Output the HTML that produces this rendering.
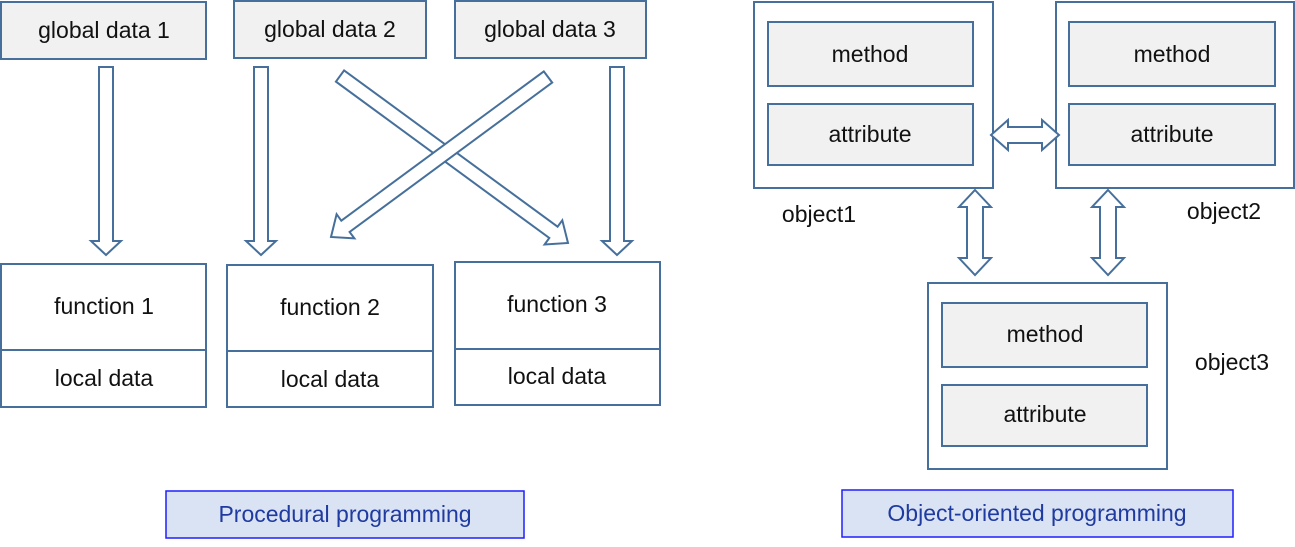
<!DOCTYPE html>
<html><head><meta charset="utf-8"><style>
html,body{margin:0;padding:0;background:#fff;width:1295px;height:547px;overflow:hidden}
svg text{font-family:"Liberation Sans",sans-serif;font-size:23px;fill:#111;text-anchor:middle;dominant-baseline:central}
</style></head><body>
<svg id="s" width="1295" height="547" xmlns="http://www.w3.org/2000/svg">
<g fill="#f1f1f1" stroke="#46709b" stroke-width="2">
<rect x="1" y="2" width="205" height="57"/>
<rect x="234" y="1" width="192" height="57"/>
<rect x="455" y="1" width="191" height="57"/>
</g>
<text x="104" y="30">global data 1</text>
<text x="330" y="29">global data 2</text>
<text x="550" y="29">global data 3</text>
<g fill="#fff" stroke="#46709b" stroke-width="2">
<rect x="1" y="264" width="205" height="143"/><line x1="1" y1="350" x2="206" y2="350"/>
<rect x="227" y="265" width="206" height="142"/><line x1="227" y1="351" x2="433" y2="351"/>
<rect x="455" y="262" width="205" height="143"/><line x1="455" y1="349" x2="660" y2="349"/>
</g>
<text x="104" y="306">function 1</text><text x="104" y="378">local data</text>
<text x="330" y="307">function 2</text><text x="330" y="379">local data</text>
<text x="557" y="304">function 3</text><text x="557" y="376">local data</text>
<rect x="166" y="491" width="358" height="47" fill="#dae3f3" stroke="#1f1fff" stroke-width="1.5"/>
<text x="345" y="514" style="fill:#1f3aa0">Procedural programming</text>
<rect x="842" y="490" width="391" height="47" fill="#dae3f3" stroke="#1f1fff" stroke-width="1.5"/>
<text x="1037" y="513" style="fill:#1f3aa0">Object-oriented programming</text>
<g stroke="#46709b" stroke-width="2">
<rect x="754" y="2" width="239" height="186" fill="#fff"/>
<rect x="1056" y="2" width="238" height="186" fill="#fff"/>
<rect x="928" y="283" width="239" height="186" fill="#fff"/>
<g fill="#f1f1f1">
<rect x="768" y="22" width="205" height="64"/><rect x="768" y="104" width="205" height="61"/>
<rect x="1069" y="22" width="206" height="64"/><rect x="1069" y="104" width="206" height="61"/>
<rect x="942" y="303" width="205" height="64"/><rect x="942" y="385" width="205" height="61"/>
</g></g>
<text x="870" y="54">method</text><text x="870" y="134">attribute</text>
<text x="1172" y="54">method</text><text x="1172" y="134">attribute</text>
<text x="1045" y="334">method</text><text x="1045" y="414">attribute</text>
<text x="819" y="214">object1</text>
<text x="1224" y="211">object2</text>
<text x="1232" y="362">object3</text>
<g id="arr" fill="#fff" stroke="#46709b" stroke-width="2"></g>
</svg>
<script>
var g=document.getElementById('arr');
function poly(pts){var p=document.createElementNS('http://www.w3.org/2000/svg','polygon');p.setAttribute('points',pts.map(function(a){return a[0].toFixed(1)+','+a[1].toFixed(1)}).join(' '));g.appendChild(p);}
function frame(x1,y1,x2,y2){var dx=x2-x1,dy=y2-y1,L=Math.hypot(dx,dy),ux=dx/L,uy=dy/L,nx=-uy,ny=ux;
 return {L:L,p:function(a,b){return [x1+ux*a+nx*b,y1+uy*a+ny*b];}};}
function arrow(x1,y1,x2,y2,sw,hw,hl){var f=frame(x1,y1,x2,y2),L=f.L,p=f.p;
 poly([p(0,-sw),p(L-hl,-sw),p(L-hl,-hw),p(L,0),p(L-hl,hw),p(L-hl,sw),p(0,sw)]);}
function darrow(x1,y1,x2,y2,sw,hw,hl){var f=frame(x1,y1,x2,y2),L=f.L,p=f.p;
 poly([p(0,0),p(hl,-hw),p(hl,-sw),p(L-hl,-sw),p(L-hl,-hw),p(L,0),p(L-hl,hw),p(L-hl,sw),p(hl,sw),p(hl,hw)]);}
arrow(106,67,106,255,7,15,14);
arrow(261,67,261,255,7,15,14);
arrow(617,67,617,255,7,15,14);
arrow(340,76,568,243,7,15,18);
arrow(548,77,331,237,7,15,18);
darrow(991,135,1059,135,8,15,17);
darrow(975,190,975,275,8,16,17);
darrow(1108,190,1108,275,8,16,17);
</script>
</body></html>
